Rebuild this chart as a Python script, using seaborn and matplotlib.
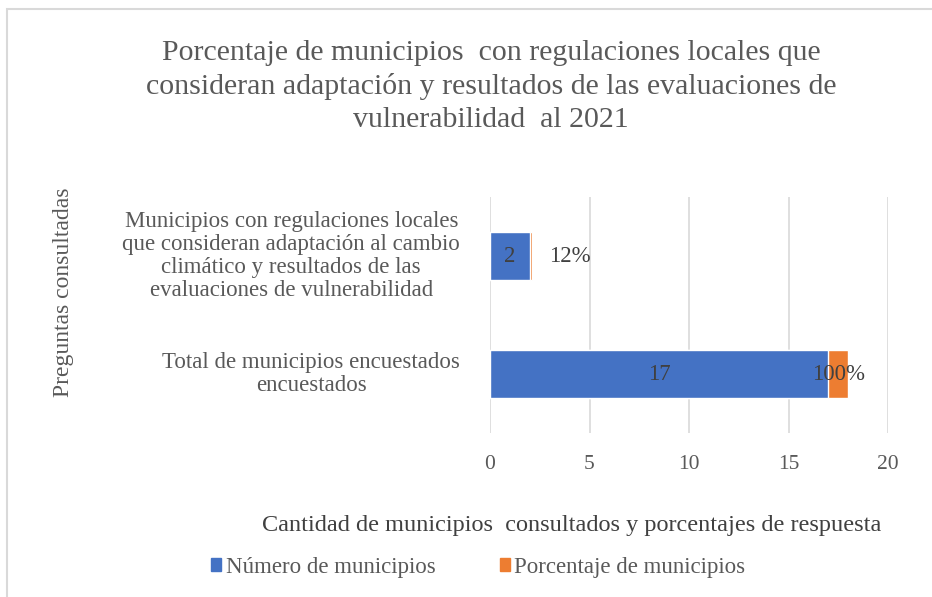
import pandas as pd
import matplotlib
matplotlib.use('Agg')
import matplotlib.pyplot as plt
import seaborn as sns
from matplotlib.patches import Rectangle, Patch

# chart values
preguntas = ['Municipios con regulaciones locales\nque consideran adaptación al cambio\nclimático y resultados de las\nevaluaciones de vulnerabilidad',
             'Total de municipios encuestados\nencuestados']
numero = [2, 17]
porcentaje = [0.12, 1.00]
etiquetas_pct = ['12%', '100%']

blue = '#4472C4'
orange = '#ED7D31'
gray = '#595959'

sns.set_theme(style='white')
plt.rcParams['font.family'] = ['Liberation Serif', 'DejaVu Serif']

df = pd.DataFrame({'pregunta': preguntas, 'numero': numero, 'porcentaje': porcentaje})
df['total'] = df['numero'] + df['porcentaje']

fig = plt.figure(figsize=(9.32, 5.97), dpi=100)
ax = fig.add_axes([0.5258, 0.2747, 0.4270, 0.3953])

# stacked bars: total in orange first, then number in blue on top
sns.barplot(data=df, x='total', y='pregunta', orient='h', color=orange,
            width=0.4, saturation=1, ax=ax)
sns.barplot(data=df, x='numero', y='pregunta', orient='h', color=blue,
            width=0.4, saturation=1, ax=ax)

ax.set_xlim(0, 20)
ax.set_ylim(1.5, -0.5)
ax.set_xticks([0, 5, 10, 15, 20])
ax.grid(axis='x', color='#D9D9D9', linewidth=1.2)
ax.grid(axis='y', visible=False)
ax.set_axisbelow(True)
for s in ax.spines.values():
    s.set_visible(False)
ax.tick_params(axis='x', length=0, labelsize=15.5, labelcolor=gray, pad=16)
ax.tick_params(axis='y', length=0, labelleft=False)
ax.set_xlabel('')
ax.set_ylabel('')

# category labels drawn by hand so the line spacing can be set
for i, p in enumerate(preguntas):
    ax.annotate(p, (0, i), xycoords=('axes fraction', 'data'), xytext=(-21.5, 0),
                textcoords='offset points', ha='right', va='center',
                multialignment='center', linespacing=1.12,
                fontsize=16.5, color=gray)

# data labels
for i in range(len(numero)):
    ax.text(numero[i] / 2, i, str(numero[i]), ha='center', va='center',
            fontsize=16.5, color='#404040')
ax.annotate(etiquetas_pct[0], (numero[0] + porcentaje[0], 0), xytext=(12, 0),
            textcoords='offset points', ha='left', va='center',
            fontsize=16.5, color='#404040')
ax.text(numero[1] + porcentaje[1] / 2, 1, etiquetas_pct[1], ha='center',
        va='center', fontsize=16.5, color='#404040')

# titles and axis names
fig.text(0.527, 0.855, 'Porcentaje de municipios  con regulaciones locales que\n'
         'consideran adaptación y resultados de las evaluaciones de\n'
         'vulnerabilidad  al 2021', ha='center', va='center',
         fontsize=21.5, color=gray, linespacing=1.36)
fig.text(0.068, 0.511, 'Preguntas consultadas', rotation=90, ha='center',
         va='center', fontsize=17, color=gray)
fig.text(0.613, 0.12, 'Cantidad de municipios  consultados y porcentajes de respuesta',
         ha='center', va='center', fontsize=17.5, color='#404040')

handles = [Patch(color=blue, label='Número de municipios'),
           Patch(color=orange, label='Porcentaje de municipios')]
fig.legend(handles=handles, loc='center', bbox_to_anchor=(0.513, 0.05), ncol=2,
           frameon=False, fontsize=16.5, handlelength=0.45, handleheight=0.45,
           handletextpad=0.2, columnspacing=2.8, labelcolor=gray)

# chart border (cropped at right and bottom)
fig.patches.append(Rectangle((0.0075, -0.1), 1.1, 1.085, transform=fig.transFigure,
                             fill=False, edgecolor='#D9D9D9', linewidth=1.5))

fig.savefig('out.png', dpi=100)
